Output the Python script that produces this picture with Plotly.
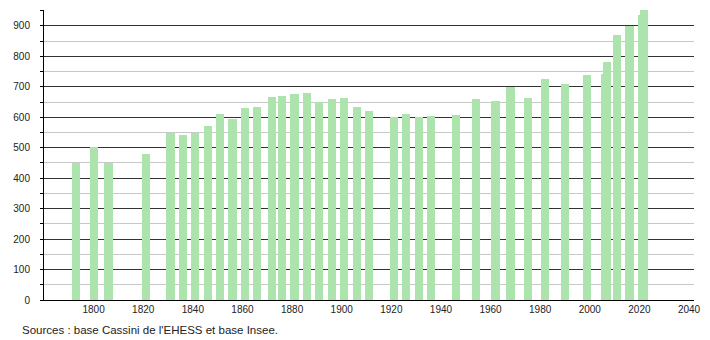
import plotly.graph_objects as go

years = [1793, 1800, 1806, 1821, 1831, 1836, 1841, 1846, 1851, 1856,
         1861, 1866, 1872, 1876, 1881, 1886, 1891, 1896, 1901, 1906,
         1911, 1921, 1926, 1931, 1936, 1946, 1954, 1962, 1968, 1975,
         1982, 1990, 1999, 2006, 2007, 2011, 2016, 2021, 2022]
population = [449, 503, 449, 480, 547, 542, 547, 571, 610, 595,
              631, 633, 667, 670, 677, 680, 649, 660, 663, 634,
              621, 600, 611, 602, 605, 607, 660, 654, 698, 664,
              726, 710, 739, 742, 782, 870, 898, 936, 953]
x_ticks = [1800, 1820, 1840, 1860, 1880, 1900, 1920, 1940, 1960, 1980, 2000, 2020, 2040]
source_text = "Sources : base Cassini de l'EHESS et base Insee."

fig = go.Figure()
fig.add_trace(go.Bar(
    x=years, y=population, width=3.3,
    marker=dict(color="#ade3ad", line=dict(width=0)),
    hoverinfo="x+y",
))

fig.update_layout(
    width=710, height=340,
    margin=dict(l=44, r=9, t=10, b=40),
    paper_bgcolor="white", plot_bgcolor="white",
    showlegend=False,
    bargap=0,
    font=dict(family="Liberation Sans, Arial, sans-serif", size=10, color="#222"),
    xaxis=dict(
        range=[1780, 2042], tickmode="array", tickvals=x_ticks,
        ticktext=[str(t) for t in x_ticks],
        showgrid=False, zeroline=False,
        showline=True, linecolor="#000", linewidth=1,
        ticks="", tickfont=dict(size=10, color="#222"),
    ),
    yaxis=dict(
        range=[0, 952], dtick=100, tick0=0,
        showgrid=True, gridcolor="#333", gridwidth=1,
        zeroline=False, showline=True, linecolor="#000", linewidth=1,
        ticks="outside", ticklen=3, tickcolor="#000",
        ticklabelstandoff=8,
        tickfont=dict(size=10, color="#222"),
        minor=dict(dtick=50, showgrid=True, gridcolor="#c8c8c8", gridwidth=1,
                   ticks="outside", ticklen=3, tickcolor="#000"),
        layer="below traces",
    ),
    annotations=[dict(
        text=source_text, xref="paper", yref="paper",
        x=-24/657, y=-30/290, xanchor="left", yanchor="middle",
        showarrow=False, font=dict(size=11.5, color="#222"),
    )],
)
fig.update_xaxes(layer="above traces")

fig.write_html("out.html")
